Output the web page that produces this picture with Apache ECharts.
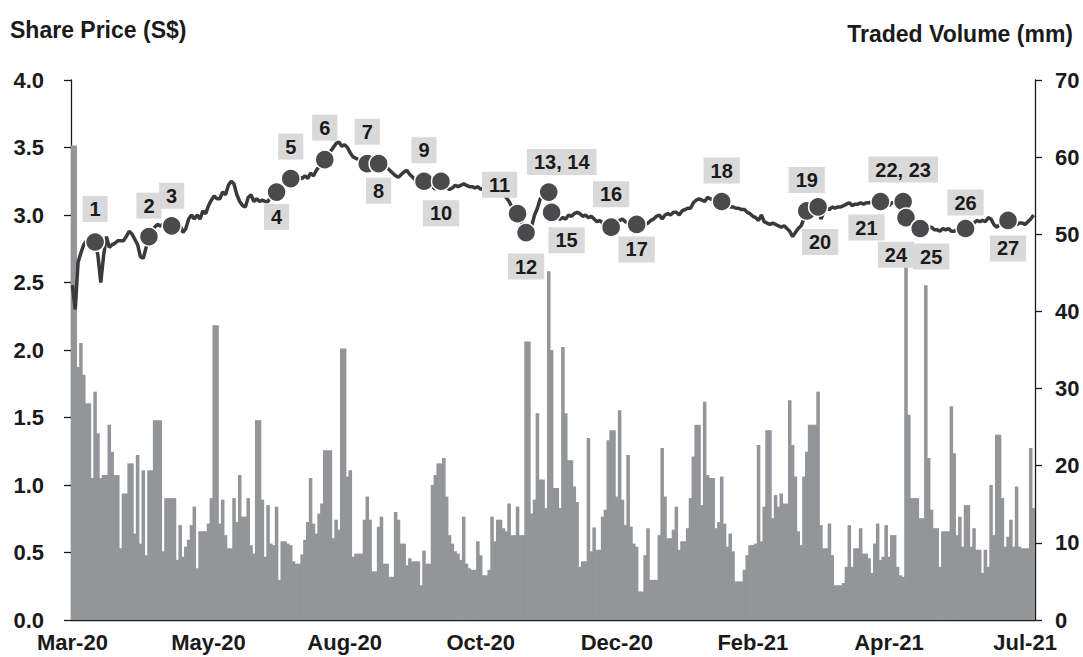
<!DOCTYPE html>
<html>
<head>
<meta charset="utf-8">
<title>Share Price and Traded Volume</title>
<script src="https://cdn.jsdelivr.net/npm/echarts/dist/echarts.min.js"></script>
<style>
  html, body { margin: 0; padding: 0; background: #ffffff; }
  #chart { width: 1083px; height: 657px; }
</style>
</head>
<body>
<div id="chart"></div>
<script>
// Month labels shown every 48 trading days along the x axis
const tickLabels = ['Mar-20', 'May-20', 'Aug-20', 'Oct-20', 'Dec-20', 'Feb-21', 'Apr-21', 'Jul-21'];
const tickStep = 48;

// Daily traded volume (mm shares)
const volume = [
  61.5, 61.5, 32.8, 35.9, 31.8, 28.1, 28.1, 18.4, 29.6, 24.2,
  18.4, 18.8, 18.8, 25.3, 21.8, 18.8, 18.8, 9.3, 16.4, 16.4,
  20.3, 20.3, 11.2, 21.4, 9.9, 19.4, 8.4, 19.4, 19.4, 25.9,
  25.9, 25.9, 8.9, 15.8, 15.8, 15.8, 15.8, 7.8, 12.3, 8.2,
  9.5, 10.4, 12.3, 14.7, 6.7, 11.5, 11.5, 11.5, 12.5, 15.8,
  38.2, 38.2, 12.5, 15.6, 11.0, 9.3, 9.3, 15.8, 12.7, 18.8,
  13.4, 13.4, 15.8, 9.7, 8.6, 25.9, 25.9, 15.6, 8.2, 14.9,
  9.9, 9.7, 14.7, 5.2, 10.2, 10.2, 9.9, 9.7, 7.6, 7.3,
  7.3, 8.5, 10.4, 12.7, 18.4, 12.5, 11.2, 13.8, 15.1, 22.0,
  22.0, 22.0, 10.6, 13.0, 11.7, 35.2, 35.2, 18.6, 19.4, 8.2,
  8.6, 8.6, 8.6, 13.0, 16.0, 13.0, 6.3, 6.3, 12.1, 13.4,
  7.3, 7.3, 5.6, 5.6, 14.0, 13.0, 9.9, 9.9, 7.1, 8.0,
  7.6, 7.6, 7.6, 4.5, 9.0, 7.3, 7.3, 17.5, 18.8, 20.3,
  20.3, 21.0, 16.0, 11.0, 9.9, 8.9, 8.6, 7.8, 13.4, 7.3,
  6.7, 6.5, 6.5, 10.2, 8.4, 5.8, 5.8, 6.5, 13.4, 10.2,
  13.0, 13.0, 11.9, 11.5, 15.1, 11.0, 11.0, 14.7, 11.0, 11.0,
  36.1, 36.1, 13.8, 15.6, 26.8, 18.2, 18.2, 14.5, 45.2, 35.0,
  17.1, 17.1, 14.5, 35.4, 26.8, 20.7, 20.7, 17.3, 15.3, 6.9,
  7.6, 7.6, 23.6, 8.9, 12.0, 9.1, 9.1, 13.4, 14.3, 23.3,
  24.6, 24.6, 16.0, 27.2, 15.6, 12.3, 21.4, 12.1, 9.9, 9.5,
  3.7, 3.7, 8.4, 11.9, 5.2, 5.2, 5.2, 11.0, 22.3, 16.0,
  10.6, 10.6, 11.7, 14.7, 9.1, 10.2, 10.2, 11.9, 15.8, 21.2,
  25.3, 25.3, 14.9, 28.3, 18.8, 18.4, 18.4, 11.9, 12.7, 18.6,
  12.5, 9.5, 11.2, 8.9, 5.0, 5.0, 5.0, 6.5, 8.4, 9.7,
  9.7, 9.9, 22.7, 10.2, 14.7, 24.6, 24.6, 13.2, 16.2, 14.7,
  16.4, 15.1, 15.1, 28.5, 22.7, 18.6, 11.5, 9.7, 18.6, 21.8,
  25.3, 25.3, 25.3, 29.6, 12.3, 9.3, 9.3, 12.5, 8.4, 4.5,
  4.5, 4.5, 4.8, 6.9, 12.3, 6.9, 9.3, 9.3, 11.9, 8.6,
  8.6, 8.0, 6.1, 9.9, 12.5, 7.8, 8.2, 12.3, 8.2, 11.0,
  11.0, 6.9, 5.8, 5.6, 46.5, 26.6, 15.8, 15.8, 15.8, 13.2,
  13.2, 43.4, 21.0, 14.3, 11.9, 11.9, 6.9, 11.5, 11.5, 11.5,
  27.7, 21.6, 11.0, 13.4, 9.5, 14.9, 14.9, 9.5, 11.9, 9.1,
  9.1, 6.1, 9.1, 6.9, 17.5, 11.0, 24.0, 24.0, 15.8, 9.5,
  10.8, 13.0, 9.5, 17.3, 9.5, 9.3, 9.3, 9.3, 22.3, 14.5
];

// Daily closing share price (S$)
const price = [
  2.48, 2.30, 2.65, 2.72, 2.78, 2.81, 2.79, 2.82, 2.80, 2.70,
  2.50, 2.70, 2.84, 2.76, 2.78, 2.79, 2.81, 2.81, 2.81, 2.84,
  2.88, 2.86, 2.82, 2.78, 2.69, 2.68, 2.76, 2.84, 2.88, 2.91,
  2.93, 2.92, 2.93, 2.92, 2.92, 2.92, 2.94, 2.94, 2.92, 2.87,
  2.90, 2.97, 3.00, 2.97, 3.00, 2.97, 3.03, 3.01, 3.07, 3.11,
  3.14, 3.12, 3.12, 3.17, 3.15, 3.22, 3.25, 3.23, 3.15, 3.10,
  3.07, 3.06, 3.13, 3.15, 3.10, 3.12, 3.10, 3.11, 3.10, 3.10,
  3.14, 3.16, 3.17, 3.19, 3.22, 3.25, 3.26, 3.27, 3.26, 3.27,
  3.28, 3.27, 3.29, 3.27, 3.31, 3.29, 3.33, 3.36, 3.39, 3.41,
  3.44, 3.47, 3.50, 3.53, 3.54, 3.51, 3.52, 3.50, 3.46, 3.43,
  3.42, 3.41, 3.41, 3.39, 3.38, 3.39, 3.39, 3.38, 3.38, 3.37,
  3.36, 3.35, 3.33, 3.31, 3.29, 3.28, 3.30, 3.32, 3.33, 3.30,
  3.28, 3.26, 3.25, 3.25, 3.25, 3.24, 3.22, 3.21, 3.19, 3.24,
  3.25, 3.21, 3.20, 3.19, 3.20, 3.22, 3.21, 3.22, 3.23, 3.22,
  3.21, 3.21, 3.20, 3.21, 3.19, 3.20, 3.18, 3.18, 3.17, 3.16,
  3.18, 3.17, 3.15, 3.13, 3.10, 3.06, 3.03, 3.01, 2.97, 2.91,
  2.87, 2.86, 2.92, 3.00, 3.05, 3.12, 3.14, 3.15, 3.17, 3.02,
  2.99, 2.98, 2.97, 2.98, 2.97, 3.00, 2.99, 3.01, 3.02, 3.01,
  2.99, 3.00, 2.98, 2.99, 2.97, 2.95, 2.96, 2.94, 2.92, 2.91,
  2.91, 2.92, 2.94, 2.96, 2.97, 2.95, 2.94, 2.93, 2.93, 2.93,
  2.94, 2.95, 2.93, 2.94, 2.96, 2.97, 2.99, 3.00, 2.97, 3.00,
  3.01, 3.00, 3.02, 3.02, 3.00, 3.03, 3.04, 3.05, 3.05, 3.09,
  3.11, 3.12, 3.11, 3.10, 3.13, 3.12, 3.11, 3.11, 3.10, 3.10,
  3.09, 3.08, 3.06, 3.06, 3.05, 3.05, 3.04, 3.04, 3.02, 3.01,
  2.99, 2.98, 2.96, 3.00, 2.95, 2.94, 2.93, 2.94, 2.93, 2.92,
  2.91, 2.92, 2.90, 2.88, 2.84, 2.87, 2.90, 2.92, 2.97, 3.03,
  3.05, 3.07, 3.07, 3.06, 2.97, 3.02, 3.05, 3.04, 3.06, 3.05,
  3.06, 3.06, 3.07, 3.08, 3.09, 3.07, 3.08, 3.08, 3.09, 3.08,
  3.09, 3.09, 3.10, 3.11, 3.11, 3.10, 3.10, 3.08, 3.07, 3.09,
  3.09, 3.10, 3.11, 3.10, 2.98, 2.97, 2.95, 2.93, 2.91, 2.90,
  2.89, 2.90, 2.91, 2.91, 2.89, 2.89, 2.88, 2.90, 2.89, 2.90,
  2.88, 2.88, 2.89, 2.90, 2.90, 2.90, 2.91, 2.93, 2.94, 2.96,
  2.95, 2.96, 2.95, 2.98, 2.97, 2.93, 2.91, 2.93, 2.95, 2.96,
  2.96, 2.94, 2.93, 2.93, 2.94, 2.94, 2.93, 2.95, 2.97, 3.00
];

// Numbered events: trading-day index and the tag shown beside each marker
const eventDays  = [8, 27, 35, 72, 77, 89, 104, 108, 124, 130, 157, 160, 168, 169, 190, 199, 229, 259, 263, 285, 293, 294, 299, 315, 330];
const eventNames = ['1', '2', '3', '4', '5', '6', '7', '8', '9', '10', '11', '12', '13, 14', '15', '16', '17', '18', '19', '20', '21', '22, 23', '24', '25', '26', '27'];

// Tag placement relative to each marker, in pixels [dx, dy]
const tagOffsets = [
  [0, -33], [0, -31], [0, -30], [0, 25], [0, -32], [0, -32], [0, -32], [0, 27],
  [0, -31], [0, 32], [-18, -29], [0, 34], [13, -30], [15, 28], [0, -33], [0, 25],
  [0, -31], [0, -31], [2, 35], [-14, 26], [0, -32], [-10, 37], [11, 28], [0, -26], [0, 28]
];

const days = price.map((_, i) => i);

const FONT = '"Liberation Sans", Arial, Helvetica, sans-serif';
const INK = '#1a1a1a';
const BAR = '#939598';
const axisText = { color: INK, fontFamily: FONT, fontWeight: 'bold', fontSize: 22 };

// Volume columns: each fills its whole day slot (slightly widened so neighbours meet without seams)
function renderVolumeBar(params, api) {
  const day = api.value(0);
  const top = api.coord([day, api.value(1)]);
  const base = api.coord([day, 0]);
  const w = api.size([1, 0])[0];
  return {
    type: 'rect',
    shape: { x: top[0] - w / 2 - 0.35, y: top[1], width: w + 0.7, height: base[1] - top[1] },
    style: { fill: BAR }
  };
}

const chart = echarts.init(document.getElementById('chart'), null, { renderer: 'svg' });

chart.setOption({
  animation: false,
  backgroundColor: '#ffffff',
  grid: { left: 71, right: 48, top: 80, bottom: 37 },
  graphic: [
    { type: 'text', left: 10, top: 18,
      style: { text: 'Share Price (S$)', fill: INK, font: 'bold 23px ' + FONT } },
    { type: 'text', right: 10, top: 22,
      style: { text: 'Traded Volume (mm)', fill: INK, font: 'bold 23px ' + FONT } }
  ],
  xAxis: {
    type: 'category',
    data: days,
    boundaryGap: true,
    axisLine: { lineStyle: { color: INK, width: 1.3 } },
    axisTick: { alignWithLabel: true, interval: tickStep - 1, length: 7, lineStyle: { color: INK, width: 1.3 } },
    axisLabel: Object.assign({
      interval: tickStep - 1,
      margin: 11,
      formatter: (v, idx) => tickLabels[Math.round(idx / tickStep)] || ''
    }, axisText),
    splitLine: { show: false }
  },
  yAxis: [
    {
      type: 'value', position: 'left', min: 0, max: 4, interval: 0.5,
      axisLine: { show: true, lineStyle: { color: INK, width: 1.3 } },
      axisTick: { show: true, length: 7, lineStyle: { color: INK, width: 1.3 } },
      axisLabel: Object.assign({ margin: 27, formatter: v => v.toFixed(1) }, axisText),
      splitLine: { show: false }
    },
    {
      type: 'value', position: 'right', min: 0, max: 70, interval: 10,
      axisLine: { show: true, lineStyle: { color: INK, width: 1.3 } },
      axisTick: { show: true, length: 7, lineStyle: { color: INK, width: 1.3 } },
      axisLabel: Object.assign({ margin: 20 }, axisText),
      splitLine: { show: false }
    }
  ],
  series: [
    {
      name: 'Traded Volume',
      type: 'custom',
      yAxisIndex: 1,
      data: volume.map((v, i) => [i, v]),
      encode: { x: 0, y: 1 },
      renderItem: renderVolumeBar,
      clip: true,
      silent: true,
      z: 1
    },
    {
      name: 'Share Price',
      type: 'line',
      yAxisIndex: 0,
      data: price,
      symbol: 'none',
      lineStyle: { color: '#3a3a3c', width: 3.5 },
      silent: true,
      z: 3
    },
    {
      name: 'Events',
      type: 'scatter',
      yAxisIndex: 0,
      symbolSize: 19,
      itemStyle: { color: '#4a4a4c', borderColor: '#ffffff', borderWidth: 1.5, opacity: 1 },
      label: {
        show: true,
        position: 'inside',
        color: INK,
        fontFamily: FONT,
        fontWeight: 'bold',
        fontSize: 20,
        lineHeight: 20,
        backgroundColor: '#d9d9d9',
        padding: [3, 7, 3, 7]
      },
      data: eventDays.map((d, k) => ({
        value: [d, price[d]],
        label: { formatter: eventNames[k], offset: tagOffsets[k] }
      })),
      silent: true,
      z: 4
    }
  ]
});
</script>
</body>
</html>
